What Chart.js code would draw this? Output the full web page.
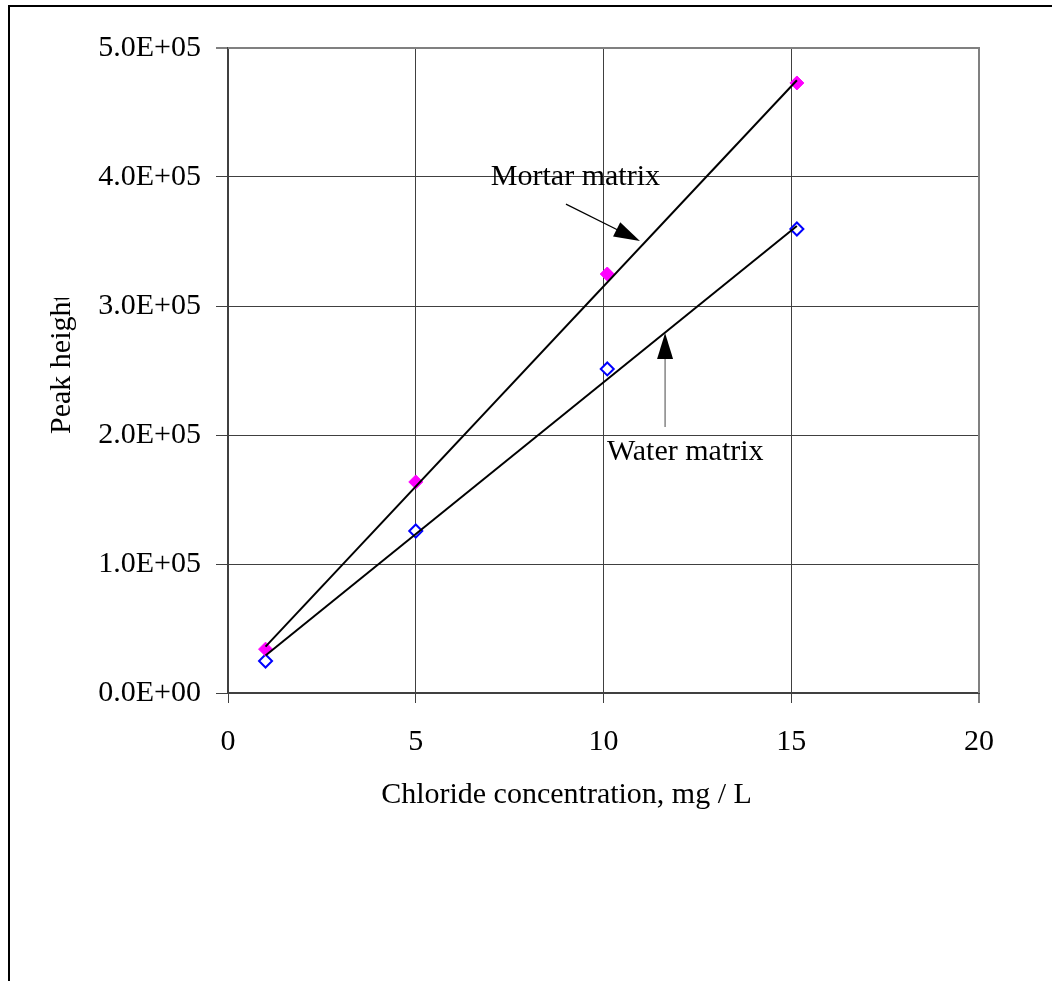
<!DOCTYPE html>
<html>
<head>
<meta charset="utf-8">
<script src="https://cdn.jsdelivr.net/npm/chart.js@4.4.1/dist/chart.umd.min.js"></script>
<style>
  html, body { margin: 0; padding: 0; background: #fff; }
</style>
</head>
<body>
<canvas id="chart" width="1052" height="981"></canvas>
<script>
// data
const concentration = [1, 5, 10.1, 15.15];
const mortarPeak = [34000, 163600, 324800, 472900];
const waterPeak = [24800, 125600, 251200, 359700];

// trend line ends (x, y)
const mortarFitX = [1, 15.15];
const mortarFitY = [36000, 475000];
const waterFitX = [1, 15.15];
const waterFitY = [29000, 362000];

const xTicks = [0, 5, 10, 15, 20];
const yTicks = [0, 100000, 200000, 300000, 400000, 500000];

const FONT = "'Liberation Serif', 'Times New Roman', serif";

function toPoints(xs, ys) {
  return xs.map((x, i) => ({ x: x, y: ys[i] }));
}

function sci(v) {
  // 5.0E+05 style
  const parts = v.toExponential(1).toUpperCase().split('E');
  let exp = parseInt(parts[1], 10);
  const sign = exp < 0 ? '-' : '+';
  exp = Math.abs(exp);
  return parts[0] + 'E' + sign + (exp < 10 ? '0' + exp : exp);
}

function arrow(ctx, x1, y1, x2, y2, color) {
  const ang = Math.atan2(y2 - y1, x2 - x1);
  const len = 26, half = 8;
  ctx.strokeStyle = color;
  ctx.lineWidth = 1.2;
  ctx.beginPath();
  ctx.moveTo(x1, y1);
  ctx.lineTo(x2 - Math.cos(ang) * len * 0.8, y2 - Math.sin(ang) * len * 0.8);
  ctx.stroke();
  ctx.fillStyle = '#000';
  ctx.beginPath();
  ctx.moveTo(x2, y2);
  ctx.lineTo(x2 - Math.cos(ang) * len - Math.sin(ang) * half, y2 - Math.sin(ang) * len + Math.cos(ang) * half);
  ctx.lineTo(x2 - Math.cos(ang) * len + Math.sin(ang) * half, y2 - Math.sin(ang) * len - Math.cos(ang) * half);
  ctx.closePath();
  ctx.fill();
}

// frame, titles and the two callouts
const extras = {
  id: 'extras',
  beforeDraw(chart) {
    const ctx = chart.ctx;
    ctx.save();
    ctx.strokeStyle = '#000';
    ctx.lineWidth = 2;
    ctx.beginPath();
    ctx.moveTo(9, 990);
    ctx.lineTo(9, 6);
    ctx.lineTo(1060, 6);
    ctx.stroke();
    ctx.restore();
  },
  afterDraw(chart) {
    const ctx = chart.ctx;
    const xs = chart.scales.x, ys = chart.scales.y;
    const area = chart.chartArea;
    ctx.save();

    // plot border top / right
    ctx.strokeStyle = '#808080';
    ctx.lineWidth = 2;
    ctx.beginPath();
    ctx.moveTo(area.left, area.top);
    ctx.lineTo(area.right, area.top);
    ctx.lineTo(area.right, area.bottom);
    ctx.stroke();

    ctx.fillStyle = '#000';
    ctx.font = '30px ' + FONT;

    // x title
    ctx.textAlign = 'center';
    ctx.textBaseline = 'alphabetic';
    ctx.fillText('Chloride concentration, mg / L', (area.left + area.right) / 2 - 37, 803);

    // y title, clipped at the top like the original
    ctx.save();
    ctx.beginPath();
    ctx.rect(0, 298, 200, 600);
    ctx.clip();
    ctx.translate(70, 434);
    ctx.rotate(-Math.PI / 2);
    ctx.textAlign = 'left';
    ctx.fillText('Peak height', 0, 0);
    ctx.restore();

    // callouts
    ctx.textAlign = 'left';
    ctx.fillText('Mortar matrix', xs.getPixelForValue(7.0), ys.getPixelForValue(393800));
    arrow(ctx, xs.getPixelForValue(9.0), ys.getPixelForValue(379000),
      xs.getPixelForValue(10.97), ys.getPixelForValue(350400), '#000');

    ctx.fillText('Water matrix', xs.getPixelForValue(10.09), ys.getPixelForValue(180600));
    arrow(ctx, xs.getPixelForValue(11.64), ys.getPixelForValue(206200),
      xs.getPixelForValue(11.64), ys.getPixelForValue(279100), '#666');

    ctx.restore();
  }
};

new Chart(document.getElementById('chart'), {
  type: 'scatter',
  data: {
    datasets: [
      {
        label: 'Mortar matrix',
        data: toPoints(concentration, mortarPeak),
        pointStyle: 'rectRot',
        pointRadius: 7,
        backgroundColor: '#ff00ff',
        borderColor: '#ff00ff',
        borderWidth: 1,
        order: 2
      },
      {
        label: 'Water matrix',
        data: toPoints(concentration, waterPeak),
        pointStyle: 'rectRot',
        pointRadius: 6.5,
        backgroundColor: '#fff',
        borderColor: '#0000ff',
        borderWidth: 2,
        order: 2
      },
      {
        type: 'line',
        label: 'Mortar fit',
        data: toPoints(mortarFitX, mortarFitY),
        borderColor: '#000',
        borderWidth: 2,
        pointRadius: 0,
        fill: false,
        order: 1
      },
      {
        type: 'line',
        label: 'Water fit',
        data: toPoints(waterFitX, waterFitY),
        borderColor: '#000',
        borderWidth: 2,
        pointRadius: 0,
        fill: false,
        order: 1
      }
    ]
  },
  options: {
    responsive: false,
    animation: false,
    events: [],
    layout: { padding: { top: 48, right: 73, left: 0, bottom: 0 } },
    plugins: { legend: { display: false }, tooltip: { enabled: false } },
    scales: {
      x: {
        type: 'linear',
        min: xTicks[0],
        max: xTicks[xTicks.length - 1],
        afterBuildTicks: s => { s.ticks = xTicks.map(v => ({ value: v })); },
        afterFit: s => { s.height = 288; },
        ticks: {
          color: '#000',
          padding: 21,
          maxRotation: 0,
          font: { family: FONT, size: 30 },
          callback: v => String(v)
        },
        grid: {
          color: c => (c.tick && c.tick.value === 20 ? '#808080' : '#404040'),
          lineWidth: c => (c.tick && c.tick.value === 20 ? 2 : 1),
          tickLength: 10
        },
        border: { color: '#404040', width: 2 }
      },
      y: {
        min: yTicks[0],
        max: yTicks[yTicks.length - 1],
        afterBuildTicks: s => { s.ticks = yTicks.map(v => ({ value: v })); },
        afterFit: s => { s.width = 228; },
        ticks: {
          color: '#000',
          padding: 15,
          font: { family: FONT, size: 30 },
          callback: v => sci(v)
        },
        grid: {
          color: c => (c.tick && c.tick.value === 500000 ? '#808080' : '#404040'),
          lineWidth: c => (c.tick && c.tick.value === 500000 ? 2 : 1),
          tickLength: 12
        },
        border: { color: '#404040', width: 2 }
      }
    }
  },
  plugins: [extras]
});
</script>
</body>
</html>
